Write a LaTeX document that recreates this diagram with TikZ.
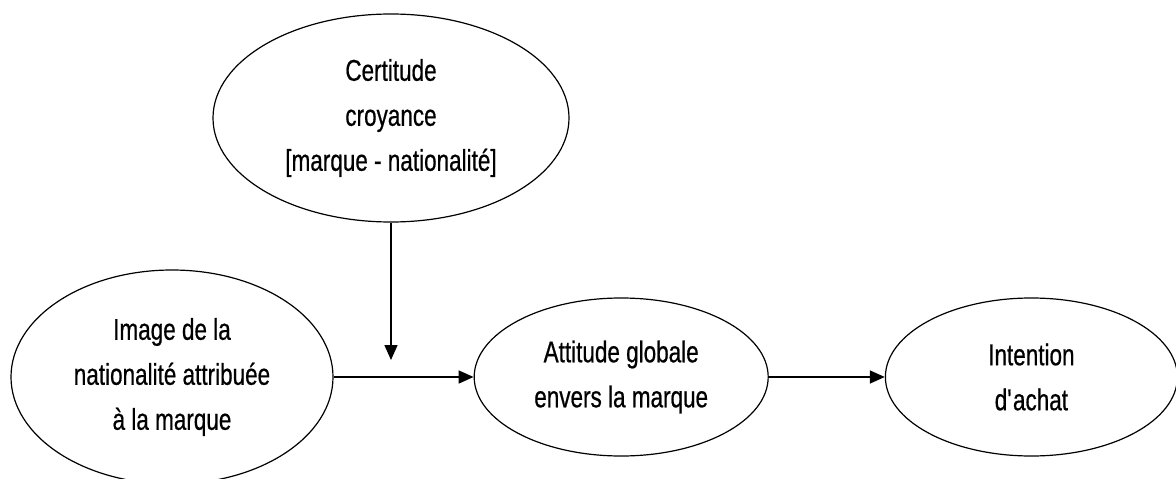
\documentclass[tikz,border=0pt]{standalone}
\usepackage{fontspec}
\setmainfont{Liberation Sans}[FakeStretch=0.75, FakeBold=0.6]
\usetikzlibrary{arrows.meta,positioning,shapes.geometric}

\begin{document}
\begin{tikzpicture}[
  x=1pt, y=-1pt,
  font=\fontsize{30}{45}\selectfont,
  ovale/.style={draw, ellipse, line width=1.2pt, align=center, inner sep=0pt},
  fleche/.style={-{Triangle[length=15pt, width=13pt]}, line width=1.6pt}
]
\useasboundingbox (0,0) rectangle (1176,479);
% moderateur
\node[ovale, minimum width=356pt, minimum height=208pt] (certitude) at (391,118)
  {Certitude\\croyance\\{[}marque - nationalit\'e{]}};
% chaine principale
\node[ovale, minimum width=322pt, minimum height=214pt] (image) at (172,377)
  {Image de la\\nationalit\'e attribu\'ee\\\`a la marque};
\node[ovale, minimum width=294pt, minimum height=158pt, right=140pt of image] (attitude)
  {Attitude globale\\envers la marque};
\node[ovale, minimum width=292pt, minimum height=158pt, right=116pt of attitude] (intention)
  {Intention\\d\textquotesingle achat};
\draw[fleche] (image) -- (attitude);
\draw[fleche] (attitude) -- (intention);
% effet sur le lien
\coordinate[above=17pt of {certitude.south |- image.east}] (cible);
\draw[fleche] (certitude.south) -- (cible);
\end{tikzpicture}
\end{document}
